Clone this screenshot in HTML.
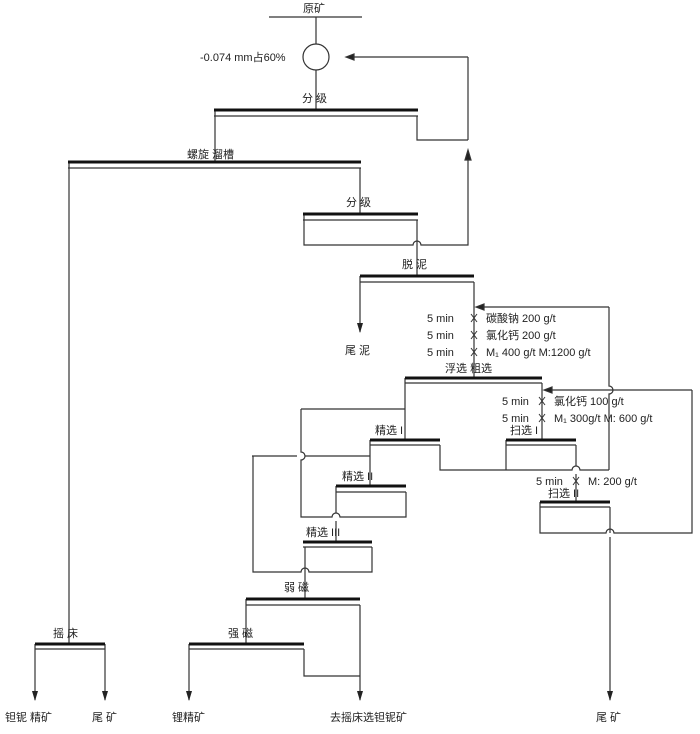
<!DOCTYPE html>
<html><head><meta charset="utf-8"><style>
body{margin:0;background:#fff}
svg text{font-family:"Liberation Sans","Noto Sans CJK SC",sans-serif;font-size:11px;fill:#222}
</style></head><body>
<svg width="700" height="729" viewBox="0 0 700 729" xmlns="http://www.w3.org/2000/svg">
<defs><marker id="a" markerWidth="10" markerHeight="8" refX="9" refY="4" orient="auto" markerUnits="userSpaceOnUse"><path d="M0,1 L10,4 L0,7 z" fill="#222"/></marker></defs>
<g stroke="#333" stroke-width="1.2" fill="none">
<line x1="269" y1="17" x2="362" y2="17"/>
<line x1="316" y1="17" x2="316" y2="44"/>
<circle cx="316" cy="57" r="13"/>
<line x1="316" y1="70" x2="316" y2="109"/>
<path d="M468,57 H352"/>
<path d="M346,57 l8,-3 v6 z" fill="#222"/>
<line x1="468" y1="57" x2="468" y2="140"/>
<line x1="214" y1="116" x2="418" y2="116"/>
<path d="M215,110 V161"/>
<path d="M417,116 V140 H468"/>
<line x1="68" y1="168" x2="361" y2="168"/>
<path d="M69,162 V643"/>
<path d="M360,168 V213"/>
<line x1="303" y1="220" x2="418" y2="220"/>
<path d="M304,214 V245 H413 a4,4 0 0 1 8,0 H468 V152"/>
<path d="M465,160 l3,-10 l3,10 z" fill="#222"/>
<path d="M417,220 V275"/>
<line x1="360" y1="282" x2="474" y2="282"/>
<path d="M360,276 V332" marker-end="url(#a)"/>
<path d="M474,282 V377"/>
<path d="M609,307 H482"/>
<path d="M476,307 l8,-3 v6 z" fill="#222"/>
<path d="M609,307 V386 a4,4 0 0 1 0,8 V470"/>
<line x1="405" y1="383" x2="542" y2="383"/>
<path d="M405,378 V439"/>
<path d="M542,383 V439"/>
<path d="M692,390 H550"/>
<path d="M544,390 l8,-3 v6 z" fill="#222"/>
<path d="M692,390 V533 H614 a4,4 0 0 0 -8,0 H540 V502"/>
<line x1="370" y1="445" x2="440" y2="445"/>
<path d="M370,440 V485"/>
<path d="M440,445 V470 H572 a4,4 0 0 1 8,0 H609"/>
<path d="M301,409 H405"/>
<path d="M301,409 V452 a4,4 0 0 1 0,8 V517 H332 a4,4 0 0 1 8,0 H406 V492"/>
<path d="M252,456 H297"/>
<path d="M305,456 H370"/>
<line x1="506" y1="445" x2="576" y2="445"/>
<path d="M506,440 V470"/>
<path d="M576,445 V466"/>
<path d="M576,474 V501"/>
<line x1="336" y1="492" x2="406" y2="492"/>
<path d="M336,486 V513"/>
<path d="M336,521 V541"/>
<line x1="303" y1="547" x2="372" y2="547"/>
<path d="M372,547 V572 H309 a4,4 0 0 0 -8,0 H253 V456"/>
<path d="M305,547 V598"/>
<line x1="540" y1="507" x2="610" y2="507"/>
<path d="M610,507 V533"/>
<path d="M610,537 V700" marker-end="url(#a)"/>
<line x1="246" y1="605" x2="360" y2="605"/>
<path d="M246,599 V643"/>
<path d="M360,605 V700" marker-end="url(#a)"/>
<line x1="189" y1="649" x2="304" y2="649"/>
<path d="M189,644 V700" marker-end="url(#a)"/>
<path d="M304,649 V676 H360"/>
<line x1="35" y1="649" x2="105" y2="649"/>
<path d="M35,644 V700" marker-end="url(#a)"/>
<path d="M105,644 V700" marker-end="url(#a)"/>
</g>
<g stroke="#111" stroke-width="3">
<line x1="214" y1="110" x2="418" y2="110"/>
<line x1="68" y1="162" x2="361" y2="162"/>
<line x1="303" y1="214" x2="418" y2="214"/>
<line x1="360" y1="276" x2="474" y2="276"/>
<line x1="405" y1="378" x2="542" y2="378"/>
<line x1="370" y1="440" x2="440" y2="440"/>
<line x1="506" y1="440" x2="576" y2="440"/>
<line x1="336" y1="486" x2="406" y2="486"/>
<line x1="303" y1="542" x2="372" y2="542"/>
<line x1="540" y1="502" x2="610" y2="502"/>
<line x1="246" y1="599" x2="360" y2="599"/>
<line x1="189" y1="644" x2="304" y2="644"/>
<line x1="35" y1="644" x2="105" y2="644"/>
</g>
<g stroke="#333" stroke-width="1" fill="none">
<path d="M471,314 l6,8 M477,314 l-6,8 M471,331 l6,8 M477,331 l-6,8 M471,348 l6,8 M477,348 l-6,8"/>
<path d="M539,397 l6,8 M545,397 l-6,8 M539,414 l6,8 M545,414 l-6,8"/>
<path d="M573,477 l6,8 M579,477 l-6,8"/>
</g>
<text x="303" y="12">原矿</text>
<text x="200" y="61">-0.074 mm占60%</text>
<text x="302" y="102">分 级</text>
<text x="187" y="158">螺旋 溜槽</text>
<text x="346" y="206">分 级</text>
<text x="402" y="268">脱 泥</text>
<text x="345" y="354">尾 泥</text>
<text x="427" y="322">5 min</text><text x="486" y="322">碳酸钠 200 g/t</text>
<text x="427" y="339">5 min</text><text x="486" y="339">氯化钙 200 g/t</text>
<text x="427" y="356">5 min</text><text x="486" y="356">M₁ 400 g/t M:1200 g/t</text>
<text x="445" y="372">浮选 粗选</text>
<text x="502" y="405">5 min</text><text x="554" y="405">氯化钙 100 g/t</text>
<text x="502" y="422">5 min</text><text x="554" y="422">M₁ 300g/t M: 600 g/t</text>
<text x="375" y="434">精选 I</text>
<text x="510" y="434">扫选 I</text>
<text x="342" y="480">精选 II</text>
<text x="536" y="485">5 min</text><text x="588" y="485">M: 200 g/t</text>
<text x="548" y="497">扫选 II</text>
<text x="306" y="536">精选 III</text>
<text x="284" y="591">弱 磁</text>
<text x="228" y="637">强 磁</text>
<text x="53" y="637">摇 床</text>
<text x="5" y="721">钽铌 精矿</text>
<text x="92" y="721">尾 矿</text>
<text x="172" y="721">锂精矿</text>
<text x="330" y="721">去摇床选钽铌矿</text>
<text x="596" y="721">尾 矿</text>
</svg>
</body></html>
